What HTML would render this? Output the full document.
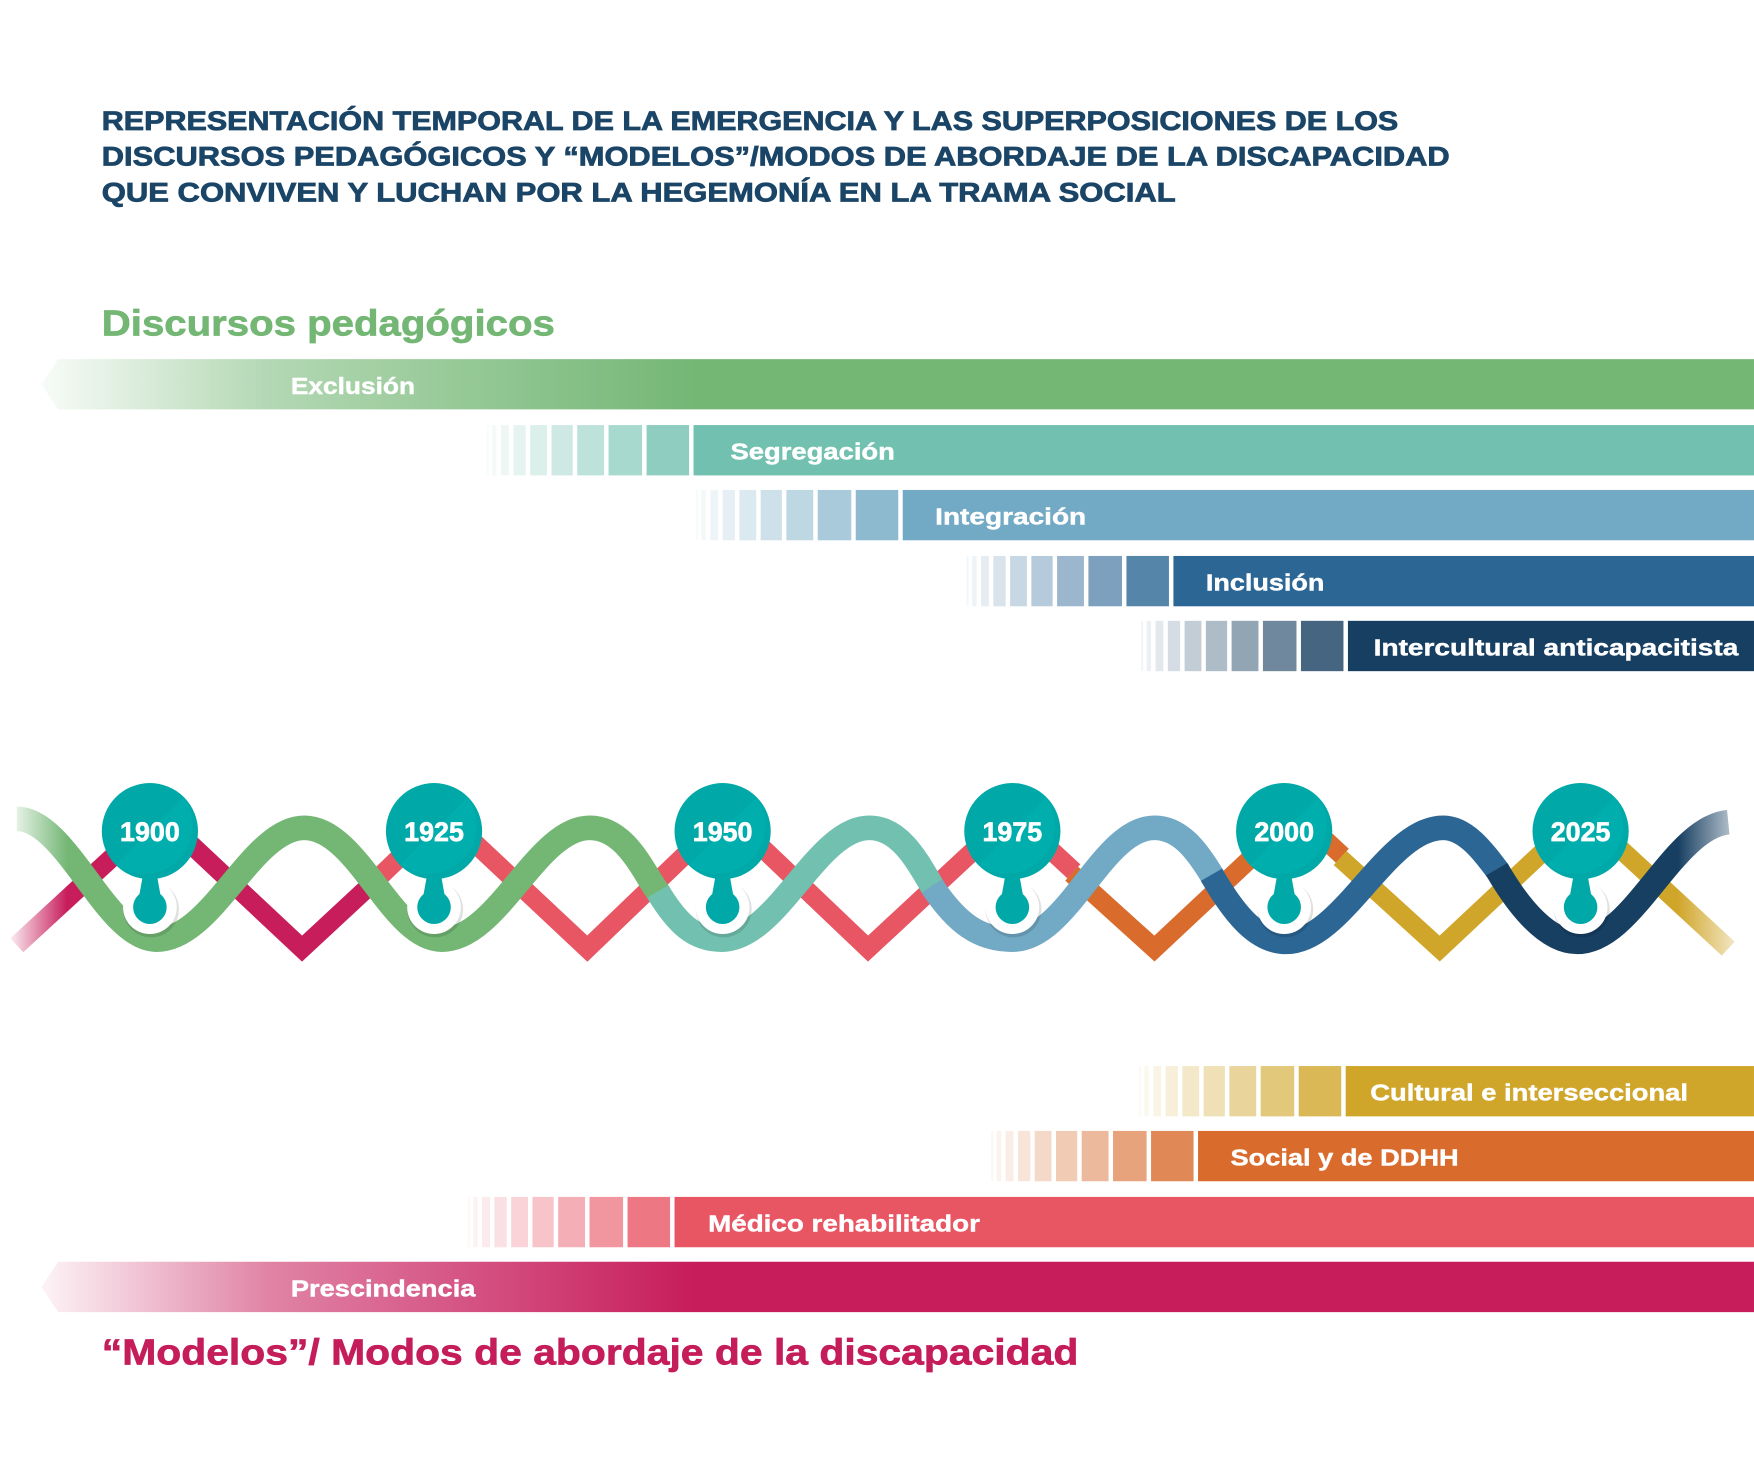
<!DOCTYPE html>
<html><head><meta charset="utf-8"><style>html,body{margin:0;padding:0;background:#fff}svg{display:block}</style></head>
<body>
<svg width="1754" height="1458" viewBox="0 0 1568 1303.4" xmlns="http://www.w3.org/2000/svg" font-family="Liberation Sans, sans-serif" font-weight="bold">
<defs>
<linearGradient id="gex" x1="37" x2="620" y1="0" y2="0" gradientUnits="userSpaceOnUse"><stop offset="0" stop-color="#74b775" stop-opacity="0.05"/><stop offset="0.35" stop-color="#74b775" stop-opacity="0.55"/><stop offset="1" stop-color="#74b775"/></linearGradient>
<linearGradient id="gpr" x1="37" x2="620" y1="0" y2="0" gradientUnits="userSpaceOnUse"><stop offset="0" stop-color="#c71d5b" stop-opacity="0.05"/><stop offset="0.35" stop-color="#c71d5b" stop-opacity="0.55"/><stop offset="1" stop-color="#c71d5b"/></linearGradient>
<linearGradient id="fadeL" x1="10" x2="60" y1="0" y2="0" gradientUnits="userSpaceOnUse"><stop offset="0" stop-color="#fff" stop-opacity="0.9"/><stop offset="1" stop-color="#fff" stop-opacity="0"/></linearGradient>
<linearGradient id="fadeR" x1="1500" x2="1560" y1="0" y2="0" gradientUnits="userSpaceOnUse"><stop offset="0" stop-color="#fff" stop-opacity="0"/><stop offset="1" stop-color="#fff" stop-opacity="0.85"/></linearGradient>
<g id="st" fill="currentColor">
<rect x="-42" y="0" width="38" height="45" opacity="0.8"/>
<rect x="-76" y="0" width="30" height="45" opacity="0.62"/>
<rect x="-104" y="0" width="24" height="45" opacity="0.47"/>
<rect x="-127" y="0" width="19" height="45" opacity="0.35"/>
<rect x="-146" y="0" width="15" height="45" opacity="0.26"/>
<rect x="-161" y="0" width="11" height="45" opacity="0.18"/>
<rect x="-172" y="0" width="7" height="45" opacity="0.12"/>
<rect x="-180" y="0" width="4" height="45" opacity="0.08"/>
<rect x="-185" y="0" width="2" height="45" opacity="0.05"/>
</g>
<g id="yr">
<circle cx="1" cy="70" r="25" fill="#000" opacity="0.12"/>
<circle cx="0" cy="68" r="24" fill="#fff"/>
<circle cx="0" cy="0" r="43" fill="#00a9a8"/>
<path d="M-30,30 A43,43 0 0 0 30,-30 Z" fill="#00b3b1" opacity="0.6"/>
<path d="M-6,38 L6,38 L10,60 L-10,60 Z" fill="#00a9a8"/>
<circle cx="0" cy="68" r="15" fill="#00a9a8"/>
</g>
</defs>

<g fill="#1b4567" stroke="#1b4567" stroke-width="0.7" font-size="24">
<text x="91" y="116" textLength="1159" lengthAdjust="spacingAndGlyphs">REPRESENTACIÓN TEMPORAL DE LA EMERGENCIA Y LAS SUPERPOSICIONES DE LOS</text>
<text x="91" y="148" textLength="1205" lengthAdjust="spacingAndGlyphs">DISCURSOS PEDAGÓGICOS Y “MODELOS”/MODOS DE ABORDAJE DE LA DISCAPACIDAD</text>
<text x="91" y="180" textLength="960" lengthAdjust="spacingAndGlyphs">QUE CONVIVEN Y LUCHAN POR LA HEGEMONÍA EN LA TRAMA SOCIAL</text>
</g>
<text x="91" y="300" font-size="32" fill="#74b775" stroke="#74b775" stroke-width="0.6" textLength="405" lengthAdjust="spacingAndGlyphs">Discursos pedagógicos</text>

<polygon points="37,343.5 52,321 1568,321 1568,366 52,366" fill="url(#gex)"/>
<g color="#72c1b0"><use href="#st" x="620" y="380"/><rect x="620" y="380" width="948" height="45" fill="#72c1b0"/></g>
<g color="#72a9c4"><use href="#st" x="807" y="438"/><rect x="807" y="438" width="761" height="45" fill="#72a9c4"/></g>
<g color="#2c6695"><use href="#st" x="1049" y="497"/><rect x="1049" y="497" width="519" height="45" fill="#2c6695"/></g>
<g color="#173f62"><use href="#st" x="1205" y="555"/><rect x="1205" y="555" width="363" height="45" fill="#173f62"/></g>
<g fill="#fff" stroke="#fff" stroke-width="0.4" font-size="21">
<text x="260" y="352" textLength="111" lengthAdjust="spacingAndGlyphs">Exclusión</text>
<text x="653" y="411" textLength="147" lengthAdjust="spacingAndGlyphs">Segregación</text>
<text x="836" y="469" textLength="135" lengthAdjust="spacingAndGlyphs">Integración</text>
<text x="1078" y="528" textLength="106" lengthAdjust="spacingAndGlyphs">Inclusión</text>
<text x="1228" y="586" textLength="326" lengthAdjust="spacingAndGlyphs">Intercultural anticapacitista</text>
</g>

<g fill="none" stroke-width="17" stroke-linejoin="miter">
<polyline points="15,845 142,728 270,848 340,783" stroke="#c81d5b"/>
<polyline points="338,785 397,728 525,848 650,728 776,848 905,728 960,779" stroke="#e85563"/>
<polyline points="958,781 1032,848 1160,728 1200,765" stroke="#d96b2c"/>
<polyline points="1198,767 1287,848 1415,728 1545,848" stroke="#d0a62a"/>
</g>
<g fill="none" stroke-width="22" stroke-linecap="butt">
<path d="M15,732 C60,732 95,840 140,840 C190,840 225,740 272,740 C320,740 350,840 395,840 C445,840 480,740 527,740 C560,740 575,780 590,800" stroke="#74b775"/>
<path d="M588,797 C605,825 620,840 645,840 C695,840 730,740 777,740 C805,740 820,770 835,795" stroke="#72c1b0"/>
<path d="M833,792 C855,825 875,840 905,840 C955,840 985,740 1032,740 C1055,740 1070,760 1085,785" stroke="#72a9c4"/>
<path d="M1083,782 C1105,820 1125,842 1150,842 C1200,842 1240,740 1290,740 C1310,740 1325,760 1340,780" stroke="#2c6695"/>
<path d="M1338,777 C1360,815 1385,842 1410,842 C1460,842 1495,740 1545,735" stroke="#173f62"/>
</g>
<rect x="0" y="700" width="70" height="170" fill="url(#fadeL)"/>
<rect x="1490" y="700" width="78" height="170" fill="url(#fadeR)"/>

<use href="#yr" x="134" y="743"/>
<use href="#yr" x="388" y="743"/>
<use href="#yr" x="646" y="743"/>
<use href="#yr" x="905" y="743"/>
<use href="#yr" x="1148" y="743"/>
<use href="#yr" x="1413" y="743"/>
<g fill="#fff" stroke="#fff" stroke-width="0.6" font-size="24" text-anchor="middle">
<text x="134" y="752">1900</text><text x="388" y="752">1925</text><text x="646" y="752">1950</text>
<text x="905" y="752">1975</text><text x="1148" y="752">2000</text><text x="1413" y="752">2025</text>
</g>

<g color="#d0a62a"><use href="#st" x="1203" y="953"/><rect x="1203" y="953" width="365" height="45" fill="#d0a62a"/></g>
<g color="#d96b2c"><use href="#st" x="1071" y="1011"/><rect x="1071" y="1011" width="497" height="45" fill="#d96b2c"/></g>
<g color="#e85563"><use href="#st" x="603" y="1070"/><rect x="603" y="1070" width="965" height="45" fill="#e85563"/></g>
<polygon points="37,1150.5 52,1128 1568,1128 1568,1173 52,1173" fill="url(#gpr)"/>
<g fill="#fff" stroke="#fff" stroke-width="0.4" font-size="21">
<text x="1225" y="984" textLength="284" lengthAdjust="spacingAndGlyphs">Cultural e interseccional</text>
<text x="1100" y="1042" textLength="204" lengthAdjust="spacingAndGlyphs">Social y de DDHH</text>
<text x="633" y="1101" textLength="243" lengthAdjust="spacingAndGlyphs">Médico rehabilitador</text>
<text x="260" y="1159" textLength="165" lengthAdjust="spacingAndGlyphs">Prescindencia</text>
</g>
<text x="91" y="1220" font-size="32" fill="#c41d5a" stroke="#c41d5a" stroke-width="0.6" textLength="873" lengthAdjust="spacingAndGlyphs">“Modelos”/ Modos de abordaje de la discapacidad</text>
</svg>
</body></html>
